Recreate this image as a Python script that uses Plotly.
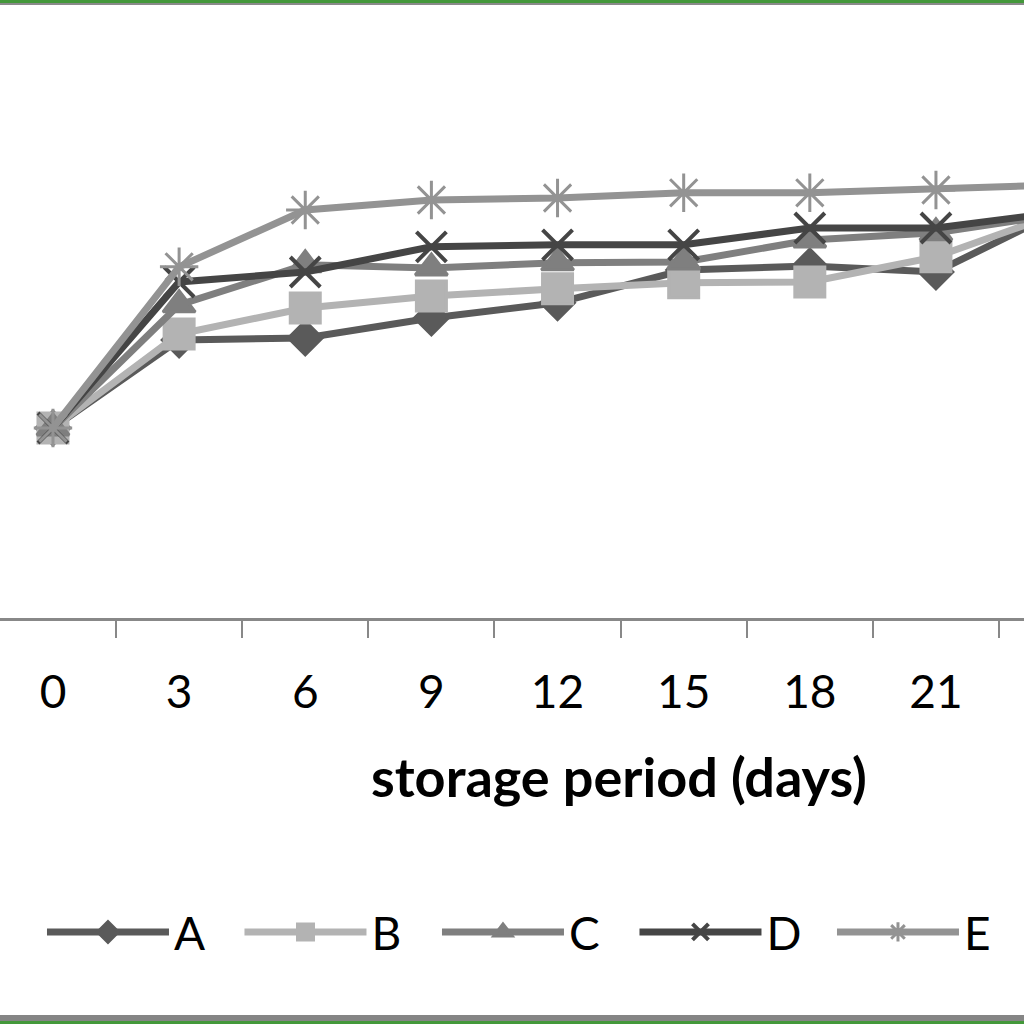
import plotly.graph_objects as go

days = ["0", "3", "6", "9", "12", "15", "18", "21", "24"]
series_names = ["A", "B", "C", "D", "E"]
A = [4.75, 6.95, 7.00, 7.50, 7.88, 8.70, 8.80, 8.65, 10.20]
B = [4.75, 7.10, 7.75, 8.05, 8.23, 8.38, 8.40, 9.03, 10.15]
C = [4.75, 7.83, 8.83, 8.75, 8.88, 8.90, 9.45, 9.63, 10.10]
D = [4.75, 8.40, 8.65, 9.28, 9.33, 9.33, 9.75, 9.75, 10.15]
E = [4.75, 8.78, 10.20, 10.45, 10.50, 10.63, 10.63, 10.70, 10.83]
x_title = "storage period (days)"

values = [A, B, C, D, E]
line_colors = ["#5a5a5a", "#b3b3b3", "#7f7f7f", "#454545", "#939393"]
symbols = ["diamond", "square", "triangle-up", "x-thin-open", "asterisk-open"]
sizes = [26, 30, 28, 30, 32]
mline = [3, 3, 3, 4, 3]

fig = go.Figure()
for name, vals, col, sym, sz, mw in zip(series_names, values, line_colors, symbols, sizes, mline):
    fig.add_trace(go.Scatter(
        x=days, y=vals, name=name, mode="lines+markers",
        line=dict(color=col, width=7),
        marker=dict(symbol=sym, size=sz, color=col,
                    line=dict(color=col, width=mw)),
    ))

green = "#43983a"
fig.update_layout(
    width=1024, height=1024,
    margin=dict(l=0, r=0, t=20, b=406, autoexpand=False),
    paper_bgcolor="white", plot_bgcolor="white",
    font=dict(family="Lato, sans-serif", color="black"),
    showlegend=True,
    legend=dict(orientation="h", x=0.041, xanchor="left", y=(618 - 932) / 598,
                yanchor="middle", font=dict(size=46), itemwidth=122,
                entrywidth=60.5, tracegroupgap=0, itemsizing="trace"),
    xaxis=dict(type="category", range=[-0.42, 7.698], tickson="boundaries",
               ticks="outside", ticklen=17, tickwidth=1.5, tickcolor="#888888",
               showline=True, linecolor="#888888", linewidth=3,
               showgrid=False, zeroline=False,
               tickfont=dict(size=46), ticklabelstandoff=32),
    yaxis=dict(range=[0, 14.95], visible=False, showgrid=False, zeroline=False),
    annotations=[
        dict(text="<b>" + x_title + "</b>", xref="paper", yref="paper",
             x=619 / 1024, y=(618 - 776) / 598, xanchor="center", yanchor="middle",
             showarrow=False, font=dict(size=54, family="Lato, sans-serif", color="black")),
    ],
    shapes=[
        dict(type="rect", xref="paper", yref="paper", x0=-0.01, x1=1.01,
             y0=(618 - 3) / 598, y1=(618 + 3) / 598, fillcolor=green, line_width=0),
        dict(type="rect", xref="paper", yref="paper", x0=-0.01, x1=1.01,
             y0=(618 - 5) / 598, y1=(618 - 3) / 598, fillcolor="#8a8a8a", line_width=0),
        dict(type="rect", xref="paper", yref="paper", x0=-0.01, x1=1.01,
             y0=(618 - 1015) / 598, y1=(618 - 1021) / 598, fillcolor="#858585", line_width=0),
        dict(type="rect", xref="paper", yref="paper", x0=-0.01, x1=1.01,
             y0=(618 - 1021) / 598, y1=(618 - 1028) / 598, fillcolor=green, line_width=0),
    ],
)

fig.write_html("out.html", config={"displayModeBar": False},
               post_script="document.body.style.margin='0';document.body.style.overflow='hidden';")
